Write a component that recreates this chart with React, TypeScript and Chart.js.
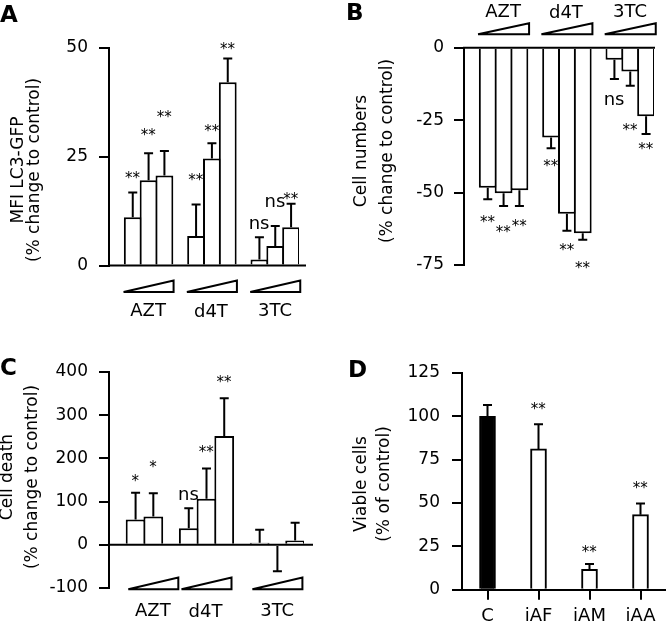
import React, { useEffect, useRef } from 'react';
import { Chart, registerables } from 'chart.js';

Chart.register(...registerables);

const FONT = '"DejaVu Sans", "Liberation Sans", Arial, sans-serif';
const INK = '#000';

// ---------------- data ----------------
const drugNames = ['AZT', 'd4T', '3TC'];

// A: MFI LC3-GFP (% change to control)
const lc3Means = [[11.1, 19.6, 20.7], [6.8, 24.6, 42.1], [1.4, 4.5, 8.8]];
const lc3Errors = [[5.7, 6.2, 5.6], [7.2, 3.5, 5.5], [5.1, 4.6, 5.4]];
const lc3Signif = [['**', '**', '**'], ['**', '**', '**'], ['ns', 'ns', '**']];
const lc3SignifAt = [[20.8, 30.6, 34.8], [20.4, 31.5, 50.4], [9.6, 14.6, 16.0]];
const lc3Ticks = [0, 25, 50];

// B: Cell numbers (% change to control)
const cellNumMeans = [[-48.3, -50.2, -49.2], [-31.0, -57.3, -64.0], [-4.2, -8.2, -23.7]];
const cellNumErrors = [[4.0, 4.4, 5.4], [3.7, 5.9, 2.3], [6.6, 4.9, 6.1]];
const cellNumSignif = [['**', '**', '**'], ['**', '**', '**'], ['ns', '**', '**']];
const cellNumSignifAt = [[-59.1, -62.6, -60.5], [-39.8, -68.8, -75.0], [-18.1, -27.4, -33.9]];
const cellNumTicks = [-75, -50, -25, 0];

// C: Cell death (% change to control)
const deathMeans = [[58.6, 65.5, null], [38.5, 106.5, 252], [4.6, -3, 10]];
const deathErrors = [[62, 54, null], [46, 70, 87], [30, 58, 41]];
const deathSignif = [['*', '*', ''], ['ns', '**', '**'], ['', '', '']];
const deathSignifAt = [[155.5, 188, null], [114.4, 221, 383], [null, null, null]];
const deathTicks = [-100, 0, 100, 200, 300, 400];

// D: Viable cells (% of control)
const viableCategories = ['C', 'iAF', 'iAM', 'iAA'];
const viableMeans = [100, 81.2, 11.8, 43.3];
const viableErrors = [6.6, 14.3, 3.0, 6.4];
const viableSignif = ['', '**', '**', '**'];
const viableSignifAt = [null, 106, 23.5, 60.4];
const viableTicks = [0, 25, 50, 75, 100, 125];

// ---------------- helpers ----------------
type Num = number | null;

function buildSlots(means: Num[][], errors: Num[][], signif: string[][], signifAt: Num[][], gapsBefore: number[]) {
  const labels: string[] = [];
  const data: Num[] = [];
  const errs: Num[] = [];
  const marks: string[] = [];
  const markAt: Num[] = [];
  const groups: { name: string; from: number; to: number }[] = [];
  means.forEach((grp, g) => {
    for (let k = 0; k < gapsBefore[g]; k++) {
      labels.push('gap ' + g + '.' + k);
      data.push(null);
      errs.push(null);
      marks.push('');
      markAt.push(null);
    }
    const from = labels.length;
    grp.forEach((v, i) => {
      labels.push(drugNames[g] + ' dose ' + (i + 1));
      data.push(v);
      errs.push(errors[g][i]);
      marks.push(signif[g][i]);
      markAt.push(signifAt[g][i]);
    });
    groups.push({ name: drugNames[g], from, to: labels.length - 1 });
  });
  return { labels, data, errs, marks, markAt, groups };
}

function inkText(ctx: CanvasRenderingContext2D, text: string, cx: number, cy: number) {
  ctx.textAlign = 'center';
  ctx.textBaseline = 'alphabetic';
  const m = ctx.measureText(text);
  const dx = (m.actualBoundingBoxRight - m.actualBoundingBoxLeft) / 2;
  const dy = (m.actualBoundingBoxAscent - m.actualBoundingBoxDescent) / 2;
  ctx.fillText(text, cx - dx, cy + dy);
}

const decorPlugin = {
  id: 'decor',
  afterDraw(chart: any, _args: any, opts: any) {
    const { ctx, chartArea } = chart;
    const xs = chart.scales.x;
    const ys = chart.scales.y;
    const data = chart.data.datasets[0].data as Num[];
    ctx.save();
    ctx.strokeStyle = INK;
    ctx.fillStyle = INK;
    ctx.lineWidth = 2;
    ctx.lineCap = 'butt';

    const y0 = ys.getPixelForValue(0);
    if (opts.zeroLine) {
      ctx.beginPath();
      ctx.moveTo(chartArea.left - 1, y0);
      ctx.lineTo(chartArea.right + opts.zeroLine.extend, y0);
      ctx.stroke();
    }

    // error bars
    (opts.errors || []).forEach((e: Num, i: number) => {
      const v = data[i];
      if (e == null || v == null) return;
      const x = xs.getPixelForValue(i);
      const yA = ys.getPixelForValue(v);
      const yB = ys.getPixelForValue(v + (v < 0 ? -e : e));
      ctx.beginPath();
      ctx.moveTo(x, yA);
      ctx.lineTo(x, yB);
      ctx.moveTo(x - opts.capHalf, yB);
      ctx.lineTo(x + opts.capHalf, yB);
      ctx.stroke();
    });

    // dose wedges and group labels
    if (opts.wedge) {
      const w = opts.wedge;
      (opts.groups || []).forEach((g: any) => {
        const cx = (xs.getPixelForValue(g.from) + xs.getPixelForValue(g.to)) / 2;
        const xl = cx - w.width / 2;
        const xr = cx + w.width / 2;
        const yt = y0 + w.top;
        const yb = y0 + w.bottom;
        ctx.save();
        ctx.lineJoin = 'miter';
        ctx.miterLimit = 3;
        ctx.beginPath();
        ctx.moveTo(xl, yb);
        ctx.lineTo(xr, yt);
        ctx.lineTo(xr, yb);
        ctx.closePath();
        ctx.stroke();
        ctx.restore();
        ctx.font = `18px ${FONT}`;
        inkText(ctx, g.name, cx, y0 + opts.groupLabelOffset);
      });
    }

    // significance marks
    (opts.marks || []).forEach((t: string, i: number) => {
      const at = opts.markAt[i];
      if (!t || at == null) return;
      const star = /^\*+$/.test(t);
      ctx.font = `${star ? 15 : 18}px ${FONT}`;
      inkText(ctx, t, xs.getPixelForValue(i), ys.getPixelForValue(at));
    });

    // y title
    if (opts.title) {
      const t = opts.title;
      ctx.save();
      ctx.font = `17px ${FONT}`;
      ctx.translate(t.x, t.y);
      ctx.rotate(-Math.PI / 2);
      ctx.textAlign = 'center';
      ctx.textBaseline = 'middle';
      t.lines.forEach((line: string, k: number) => ctx.fillText(line, 0, k * t.gap));
      ctx.restore();
    }

    // panel letter
    if (opts.letter) {
      ctx.font = `bold 23px ${FONT}`;
      ctx.textAlign = 'left';
      ctx.textBaseline = 'alphabetic';
      ctx.fillText(opts.letter.text, opts.letter.x, opts.letter.y);
    }
    ctx.restore();
  },
};

function yScale(ticks: number[], width: number, pad: number) {
  return {
    min: ticks[0],
    max: ticks[ticks.length - 1],
    afterBuildTicks: (s: any) => {
      s.ticks = ticks.map((v) => ({ value: v }));
    },
    afterFit: (s: any) => {
      s.width = width;
    },
    border: { display: true, color: INK, width: 2 },
    grid: {
      display: true,
      drawOnChartArea: false,
      drawTicks: true,
      tickLength: 10,
      tickColor: INK,
      tickWidth: 2,
      color: INK,
      lineWidth: 2,
    },
    ticks: { color: INK, font: { family: FONT, size: 17 }, padding: pad },
  };
}

function makeChart(canvas: HTMLCanvasElement, p: any) {
  const dataset: any = {
    data: p.data,
    backgroundColor: p.fill,
    borderColor: INK,
    borderWidth: 2,
    borderSkipped: 'start',
    categoryPercentage: 1,
    barPercentage: p.barPct ?? 1,
  };
  if (p.barThickness) dataset.barThickness = p.barThickness;
  return new Chart(canvas, {
    type: 'bar',
    data: { labels: p.labels, datasets: [dataset] },
    options: {
      responsive: false,
      maintainAspectRatio: false,
      animation: false,
      devicePixelRatio: 1,
      layout: { padding: p.padding },
      plugins: {
        legend: { display: false },
        tooltip: { enabled: false },
        decor: p.decor,
      } as any,
      scales: {
        x: p.xScale,
        y: yScale(p.ticks, p.yWidth, p.tickPad) as any,
      },
    },
    plugins: [decorPlugin as any],
  });
}

// ---------------- panel specs ----------------
const slotsA = buildSlots(lc3Means, lc3Errors, lc3Signif, lc3SignifAt, [1, 1, 1]);
const slotsB = buildSlots(cellNumMeans, cellNumErrors, cellNumSignif, cellNumSignifAt, [1, 1, 1]);
const slotsC = buildSlots(deathMeans as Num[][], deathErrors as Num[][], deathSignif, deathSignifAt, [1, 0, 1]);

const hiddenX = { type: 'category', display: false, offset: true };

const panels = [
  {
    labels: slotsA.labels,
    data: slotsA.data,
    fill: '#fff',
    barPct: 1.125,
    padding: { left: 0, top: 48, right: 367, bottom: 358.5 },
    yWidth: 109,
    tickPad: 11,
    ticks: lc3Ticks,
    xScale: hiddenX,
    decor: {
      zeroLine: { extend: 7 },
      errors: slotsA.errs,
      capHalf: 4.5,
      marks: slotsA.marks,
      markAt: slotsA.markAt,
      groups: slotsA.groups,
      wedge: { top: 15, bottom: 26.5, width: 50 },
      groupLabelOffset: 44,
      title: { lines: ['MFI LC3-GFP', '(% change to control)'], x: 18.5, gap: 16, y: 170 },
      letter: { text: 'A', x: 0, y: 22 },
    },
  },
  {
    labels: slotsB.labels,
    data: slotsB.data,
    fill: '#fff',
    barPct: 1.125,
    padding: { left: 333, top: 47.7, right: 12, bottom: 359 },
    yWidth: 131,
    tickPad: 10,
    ticks: cellNumTicks,
    xScale: hiddenX,
    decor: {
      zeroLine: { extend: 1 },
      errors: slotsB.errs,
      capHalf: 4.5,
      marks: slotsB.marks,
      markAt: slotsB.markAt,
      groups: slotsB.groups,
      wedge: { top: -24.4, bottom: -13.4, width: 51 },
      groupLabelOffset: -37,
      title: { lines: ['Cell numbers', '(% change to control)'], x: 362, gap: 26, y: 151 },
      letter: { text: 'B', x: 346, y: 20 },
    },
  },
  {
    labels: slotsC.labels,
    data: slotsC.data,
    fill: '#fff',
    barPct: 1.115,
    padding: { left: 0, top: 372, right: 362, bottom: 36 },
    yWidth: 109,
    tickPad: 11,
    ticks: deathTicks,
    xScale: hiddenX,
    decor: {
      zeroLine: { extend: 9 },
      errors: slotsC.errs,
      capHalf: 4.5,
      marks: slotsC.marks,
      markAt: slotsC.markAt,
      groups: slotsC.groups,
      wedge: { top: 32.7, bottom: 44.4, width: 50 },
      groupLabelOffset: 64.7,
      title: { lines: ['Cell death', '(% change to control)'], x: 8, gap: 25, y: 477 },
      letter: { text: 'C', x: 0, y: 375 },
    },
  },
  {
    labels: viableCategories,
    data: viableMeans,
    fill: viableCategories.map((c) => (c === 'C' ? '#000' : '#fff')),
    barThickness: 16,
    padding: { left: 333, top: 373, right: 0, bottom: 0 },
    yWidth: 129,
    tickPad: 12,
    ticks: viableTicks,
    xScale: {
      type: 'category',
      offset: true,
      afterFit: (s: any) => {
        s.height = 34.3;
      },
      border: { display: true, color: INK, width: 2 },
      grid: {
        display: true,
        offset: false,
        drawOnChartArea: false,
        drawTicks: true,
        tickLength: 10,
        tickColor: INK,
        tickWidth: 2,
        color: INK,
        lineWidth: 2,
      },
      ticks: { color: INK, font: { family: FONT, size: 18 }, padding: 6, maxRotation: 0, autoSkip: false },
    },
    decor: {
      errors: viableErrors,
      capHalf: 4.5,
      marks: viableSignif,
      markAt: viableSignifAt,
      title: { lines: ['Viable cells', '(% of control)'], x: 361.3, gap: 23.4, y: 484 },
      letter: { text: 'D', x: 348, y: 377 },
    },
  },
];

export default function App() {
  const canvases = useRef<(HTMLCanvasElement | null)[]>([]);
  useEffect(() => {
    const charts = panels.map((p, i) => makeChart(canvases.current[i] as HTMLCanvasElement, p));
    return () => charts.forEach((c) => c.destroy());
  }, []);
  return (
    <div
      style={{
        position: 'absolute',
        left: 0,
        top: 0,
        width: 666,
        height: 624,
        background: '#fff',
        overflow: 'hidden',
      }}
    >
      {panels.map((_, i) => (
        <canvas
          key={i}
          ref={(el) => {
            canvases.current[i] = el;
          }}
          width={666}
          height={624}
          style={{ position: 'absolute', left: 0, top: 0 }}
        />
      ))}
    </div>
  );
}
